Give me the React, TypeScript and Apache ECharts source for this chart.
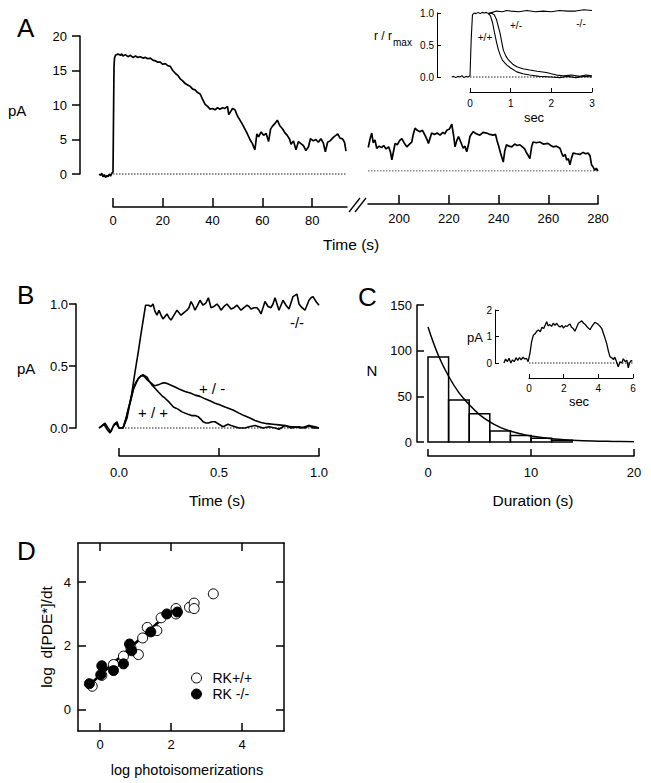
import React, { useEffect, useRef } from "react";
import * as echarts from "echarts";

const FONT = "'Liberation Sans', Arial, Helvetica, sans-serif";
const BLACK = "#000";

// ---------- Panel A : long recording (pA vs s) ----------
const traceA1: number[][] = [
  [-5.5, 0.0], [-5, -0.2], [-4.5, 0.1], [-4, -0.4], [-3.5, -0.1], [-3, -0.5], [-2.5, -0.2], [-2, -0.4],
  [-1.5, 0.0], [-1, -0.3], [-0.5, 0.1], [0, 0.3], [0.2, 8], [0.4, 15.5], [0.6, 16.8], [1, 17.2], [2, 17.4],
  [3, 17.2], [3.5, 17.4], [4, 17.1], [5, 17.3], [6, 17.0], [7, 17.2], [8, 16.9], [9, 17.1], [10, 16.9],
  [11, 17.0], [12, 16.8], [13, 16.9], [14, 16.7], [15, 16.8], [16, 16.5], [17, 16.4], [18, 16.2], [19, 16.2],
  [20, 15.9], [21, 16.0], [22, 15.7], [23, 15.6], [24, 15.0], [25, 14.6], [26, 14.3], [27, 13.8], [28, 13.5],
  [29, 13.1], [30, 12.9], [31, 12.7], [32, 12.3], [33, 12.2], [34, 11.8], [35, 11.6], [36, 10.8], [37, 10.1],
  [38, 9.8], [39, 9.4], [40, 9.5], [41, 9.3], [42, 9.6], [43, 9.4], [44, 9.6], [45, 9.5], [46, 9.8], [46.5, 8.6],
  [47, 8.9], [48, 9.5], [49, 9.3], [50, 8.4], [51, 7.8], [52, 7.2], [53, 6.5], [54, 5.8], [55, 5.0], [56, 4.4],
  [57, 3.5], [57.8, 5.8], [58.5, 5.4], [59.5, 6.1], [60.5, 5.6], [61.5, 5.9], [62.5, 4.7], [63.3, 6.5], [64, 6.9],
  [65, 7.3], [66, 7.8], [67, 7.0], [68, 6.6], [69, 6.0], [70, 5.6], [71, 5.0], [71.5, 4.3], [72.5, 4.8],
  [73.5, 3.5], [74.5, 4.7], [75.5, 4.4], [76.5, 4.1], [77.5, 3.4], [78.5, 3.9], [79.3, 5.1], [80.5, 4.8],
  [81.5, 5.0], [82.5, 4.6], [83.5, 5.1], [84.5, 4.5], [85.3, 3.2], [86.2, 4.6], [87.2, 4.8], [88.5, 5.3],
  [89.5, 5.6], [90.3, 5.8], [91.2, 5.2], [92.2, 5.1], [93, 4.6], [93.6, 3.3],
];
const traceA2: number[][] = [
  [187.6, 3.4], [188.3, 4.6], [189, 5.5], [189.6, 4.1], [190.3, 4.5], [191, 3.3], [192, 3.6], [193, 3.4],
  [193.8, 3.7], [194.8, 3.2], [195.8, 3.5], [196.5, 2.8], [197.1, 1.6], [197.8, 2.9], [198.4, 4.0], [199.3, 3.8],
  [200.2, 4.4], [201.1, 4.7], [202, 4.1], [203.1, 3.5], [204.2, 3.9], [205.1, 4.2], [205.7, 5.3], [206.4, 6.2],
  [207.3, 5.9], [208.4, 5.7], [209.4, 5.9], [210.4, 5.2], [211.2, 4.6], [211.8, 4.0], [212.5, 4.8], [213.1, 5.5],
  [214.2, 5.3], [215.3, 5.5], [216.5, 5.2], [217.6, 5.6], [218.4, 5.4], [219.2, 5.9], [220.3, 6.1], [221.2, 6.8],
  [221.9, 5.2], [222.5, 3.5], [223.2, 4.4], [223.9, 5.0], [224.8, 4.2], [225.8, 3.3], [226.5, 3.6], [227.2, 2.8],
  [227.9, 3.8], [228.5, 5.0], [229.2, 5.4], [229.8, 5.7], [231, 5.4], [232.5, 5.2], [233.8, 5.6], [235.2, 5.5],
  [236.5, 5.3], [237.8, 5.2], [238.8, 5.3], [239.4, 4.4], [239.9, 3.8], [240.8, 2.6], [241.9, 1.3], [242.5, 2.9],
  [243.2, 3.8], [244.2, 3.6], [245.3, 3.5], [246.5, 3.9], [247.5, 3.7], [248.6, 3.8], [249.6, 3.5], [250.5, 3.2],
  [251.3, 2.6], [252, 2.2], [252.6, 1.8], [253.3, 3.5], [253.9, 4.2], [255.2, 4.1], [256.6, 4.2], [258, 3.9],
  [259.9, 4.0], [261, 3.7], [262, 3.5], [263.3, 3.6], [264.7, 3.3], [265.4, 2.6], [266, 2.1], [266.8, 2.4],
  [267.4, 1.6], [268.1, 1.8], [268.7, 0.9], [269.3, 1.8], [270, 2.6], [271.3, 2.5], [272.7, 2.4], [274, 2.7],
  [275, 2.5], [276, 2.6], [276.8, 2.2], [277.4, 0.9], [278, 0.6], [278.7, 0.1], [279.3, 0.4], [280, 0.0],
];
const baseA1 = [[0, 0], [94, 0]];
const baseA2 = [[187.5, 0], [280, 0]];
const ticksA1 = [0, 20, 40, 60, 80];
const ticksA2 = [200, 220, 240, 260, 280];

// ---------- Inset A : normalised responses (r/rmax vs sec) ----------
const insetPre: number[][] = [
  [-0.45, 0], [-0.4, 0.01], [-0.35, -0.01], [-0.3, 0.01], [-0.25, 0], [-0.2, 0.02], [-0.15, -0.01],
  [-0.1, 0.01], [-0.05, 0], [0, 0.02], [0.03, 0.6], [0.06, 0.97], [0.1, 1.0], [0.15, 0.99], [0.2, 1.01],
  [0.25, 0.99], [0.3, 1.01], [0.35, 1.0], [0.4, 1.01], [0.45, 0.99],
];
const insetWT: number[][] = [
  [0.45, 0.99], [0.5, 0.96], [0.55, 0.86], [0.6, 0.7], [0.65, 0.55], [0.7, 0.42], [0.75, 0.33], [0.8, 0.26],
  [0.9, 0.19], [1.0, 0.14], [1.15, 0.08], [1.3, 0.05], [1.47, 0.03], [1.7, 0.01], [2.0, 0.0], [2.2, -0.01],
  [2.4, 0.01], [2.6, -0.01], [2.8, 0.01], [3.0, 0],
];
const insetHet: number[][] = [
  [0.45, 0.99], [0.5, 1.0], [0.55, 0.99], [0.6, 0.97], [0.65, 0.9], [0.7, 0.78], [0.74, 0.68], [0.78, 0.55],
  [0.82, 0.42], [0.88, 0.33], [0.94, 0.27], [1.05, 0.2], [1.15, 0.16], [1.3, 0.13], [1.47, 0.11], [1.65, 0.09],
  [1.88, 0.07], [2.0, 0.05], [2.13, 0.03], [2.3, 0.02], [2.5, 0.03], [2.7, 0.01], [2.85, 0.03], [3.0, 0.02],
];
const insetKO: number[][] = [
  [0.45, 0.99], [0.55, 1.01], [0.65, 1.03], [0.8, 1.02], [0.9, 1.04], [1.0, 1.03], [1.2, 1.02], [1.4, 1.04],
  [1.6, 1.02], [1.8, 1.03], [2.0, 1.02], [2.2, 1.04], [2.4, 1.03], [2.6, 1.03], [2.8, 1.05], [3.0, 1.04],
];
const baseInsetA = [[0, 0], [3, 0]];

// ---------- Panel B : single photon responses ----------
const bKO: number[][] = [
  [-0.1, 0], [-0.09, 0.01], [-0.075, 0.03], [-0.06, -0.01], [-0.045, -0.04], [-0.03, 0.01], [-0.015, 0.04],
  [0, 0.0], [0.02, 0.0], [0.04, 0.08], [0.063, 0.27], [0.08, 0.45], [0.097, 0.62], [0.11, 0.76], [0.12, 0.86],
  [0.133, 0.99], [0.147, 0.99], [0.16, 0.98], [0.17, 1.0], [0.18, 0.94], [0.19, 0.91], [0.2, 0.95], [0.21, 0.91],
  [0.22, 0.88], [0.23, 0.9], [0.24, 0.92], [0.25, 0.89], [0.26, 0.87], [0.275, 0.91], [0.29, 0.95], [0.3, 0.93],
  [0.31, 0.91], [0.325, 0.93], [0.34, 0.95], [0.35, 0.97], [0.36, 1.02], [0.37, 0.99], [0.38, 0.95], [0.39, 0.98],
  [0.405, 1.03], [0.42, 0.99], [0.435, 1.01], [0.447, 1.05], [0.46, 0.97], [0.475, 0.98], [0.49, 1.0], [0.5, 0.98],
  [0.51, 0.95], [0.525, 0.98], [0.54, 1.0], [0.55, 0.98], [0.56, 0.96], [0.575, 0.97], [0.59, 0.99], [0.6, 0.97],
  [0.61, 0.95], [0.625, 0.97], [0.64, 0.99], [0.65, 0.98], [0.66, 0.96], [0.675, 0.97], [0.69, 0.97], [0.7, 0.95],
  [0.71, 0.92], [0.72, 0.97], [0.73, 1.02], [0.745, 0.98], [0.76, 0.97], [0.77, 1.0], [0.78, 1.05], [0.79, 1.0],
  [0.8, 0.95], [0.81, 0.99], [0.82, 1.03], [0.835, 0.99], [0.85, 0.96], [0.86, 1.01], [0.87, 1.06], [0.88, 1.07],
  [0.89, 1.08], [0.9, 1.0], [0.915, 0.97], [0.93, 0.95], [0.94, 0.99], [0.95, 1.03], [0.96, 1.05], [0.97, 1.06],
  [0.985, 1.02], [1.0, 0.99],
];
const bWT: number[][] = [
  [-0.1, 0], [-0.085, 0.02], [-0.07, 0.04], [-0.055, 0.0], [-0.04, -0.03], [-0.025, 0.03], [-0.01, 0.05],
  [0, 0.0], [0.02, 0.0], [0.035, 0.08], [0.047, 0.16], [0.06, 0.24], [0.072, 0.32], [0.085, 0.37], [0.097, 0.40],
  [0.11, 0.42], [0.12, 0.43], [0.13, 0.42], [0.14, 0.41], [0.15, 0.38], [0.163, 0.35], [0.18, 0.32], [0.197, 0.29],
  [0.215, 0.26], [0.23, 0.24], [0.25, 0.21], [0.272, 0.17], [0.285, 0.16], [0.297, 0.15], [0.315, 0.13],
  [0.33, 0.12], [0.345, 0.11], [0.363, 0.10], [0.38, 0.10], [0.397, 0.09], [0.41, 0.07], [0.42, 0.05],
  [0.435, 0.04], [0.447, 0.04], [0.465, 0.05], [0.48, 0.05], [0.5, 0.03], [0.52, 0.01], [0.545, 0.03],
  [0.56, 0.02], [0.58, 0.01], [0.6, 0.0], [0.63, 0.0], [0.65, 0.01], [0.68, 0.02], [0.7, 0.01], [0.72, 0.0],
  [0.75, 0.01], [0.78, 0.0], [0.8, -0.01], [0.83, 0.02], [0.86, 0.0], [0.9, 0.01], [0.93, 0.0], [0.95, 0.02],
  [0.97, 0.0], [1.0, 0.0],
];
const bHet: number[][] = [
  [0.02, 0.0], [0.035, 0.07], [0.047, 0.15], [0.06, 0.23], [0.072, 0.31], [0.085, 0.36], [0.097, 0.40],
  [0.11, 0.42], [0.12, 0.42], [0.13, 0.41], [0.14, 0.39], [0.155, 0.37], [0.17, 0.35], [0.18, 0.34], [0.2, 0.35],
  [0.213, 0.36], [0.225, 0.365], [0.238, 0.36], [0.26, 0.345], [0.28, 0.33], [0.3, 0.315], [0.33, 0.295],
  [0.36, 0.28], [0.38, 0.265], [0.405, 0.255], [0.43, 0.235], [0.46, 0.215], [0.48, 0.2], [0.5, 0.19],
  [0.53, 0.17], [0.57, 0.145], [0.6, 0.12], [0.625, 0.1], [0.655, 0.08], [0.68, 0.06], [0.71, 0.045],
  [0.74, 0.035], [0.77, 0.03], [0.8, 0.025], [0.83, 0.02], [0.86, 0.01], [0.88, 0.01], [0.91, 0.0],
  [0.95, 0.02], [0.98, 0.01], [1.0, 0.0],
];
const baseB = [[0, 0], [1, 0]];

// ---------- Panel C : duration histogram ----------
const binStart = [0, 2, 4, 6, 8, 10, 12];
const binEnd = [2, 4, 6, 8, 10, 12, 14];
const binCount = [93, 46, 31, 12, 7, 4, 2];
const fitX = [0, 1, 2, 3, 4, 5, 6, 7, 8, 9, 10, 12, 14, 16, 18, 20];
const fitN = [126, 95, 72, 54, 41, 30, 22, 16, 12, 9, 6.5, 3.5, 2, 1, 0.6, 0.3];

// ---------- Inset C : single long event ----------
const traceInsetC: number[][] = [
  [-1.45, 0.0], [-1.35, 0.15], [-1.25, 0.05], [-1.15, 0.18], [-1.05, 0.0], [-0.95, 0.12], [-0.85, 0.05],
  [-0.75, 0.2], [-0.65, 0.1], [-0.55, 0.2], [-0.45, 0.12], [-0.35, 0.22], [-0.25, 0.15], [-0.15, 0.18],
  [-0.05, 0.05], [0.05, 0.35], [0.15, 0.8], [0.25, 1.05], [0.35, 1.1], [0.45, 1.2], [0.54, 1.25], [0.65, 1.18],
  [0.75, 1.35], [0.85, 1.3], [0.95, 1.45], [1.02, 1.56], [1.1, 1.4], [1.2, 1.45], [1.3, 1.38], [1.4, 1.5],
  [1.5, 1.42], [1.6, 1.5], [1.7, 1.4], [1.8, 1.36], [1.9, 1.42], [1.98, 1.32], [2.1, 1.4], [2.2, 1.38],
  [2.3, 1.45], [2.37, 1.47], [2.45, 1.35], [2.55, 1.3], [2.65, 1.2], [2.75, 1.35], [2.85, 1.5], [2.95, 1.55],
  [3.04, 1.59], [3.15, 1.5], [3.25, 1.45], [3.33, 1.38], [3.42, 1.32], [3.52, 1.26], [3.6, 1.35], [3.7, 1.45],
  [3.8, 1.53], [3.9, 1.5], [4.0, 1.45], [4.1, 1.38], [4.2, 1.3], [4.29, 1.12], [4.38, 0.95], [4.48, 0.74],
  [4.58, 0.45], [4.67, 0.24], [4.77, 0.2], [4.87, 0.13], [4.95, 0.22], [5.05, 0.05], [5.15, -0.14], [5.25, 0.05],
  [5.35, 0.0], [5.44, 0.16], [5.55, 0.05], [5.65, 0.1], [5.73, -0.18], [5.8, 0.0], [5.9, 0.1], [5.96, 0.06],
];
const baseInsetC = [[0, 0], [6, 0]];

// ---------- Panel D : log rate vs log photoisomerizations ----------
const dOpen: number[][] = [
  [-0.22, 0.74], [0.05, 1.08], [0.38, 1.42], [0.66, 1.68], [0.87, 1.94], [1.08, 1.73], [1.2, 2.25],
  [1.33, 2.58], [1.6, 2.48], [1.72, 2.88], [2.14, 3.17], [2.14, 3.0], [2.52, 3.21], [2.65, 3.34], [2.65, 3.17],
  [3.19, 3.63],
];
const dFilled: number[][] = [
  [-0.3, 0.82], [0.02, 1.1], [0.05, 1.38], [0.38, 1.23], [0.66, 1.44], [0.83, 2.06], [0.89, 1.85],
  [1.43, 2.44], [1.88, 3.0], [2.18, 3.06],
];
const dFit = [[-0.3, 0.78], [1.75, 2.85]];
const ticksD = [0, 2, 4];

function valueAxis(extra: any): any {
  const base: any = {
    type: "value",
    splitLine: { show: false },
    axisLine: { show: true, onZero: false, lineStyle: { color: BLACK, width: 1.5 } },
    axisTick: { show: true, length: 8, lineStyle: { color: BLACK, width: 1.5 } },
    axisLabel: { color: BLACK, fontFamily: FONT, fontSize: 13 },
  };
  const out: any = { ...base, ...extra };
  out.axisLine = { ...base.axisLine, ...(extra.axisLine || {}) };
  out.axisLine.lineStyle = { ...base.axisLine.lineStyle, ...((extra.axisLine || {}).lineStyle || {}) };
  out.axisTick = { ...base.axisTick, ...(extra.axisTick || {}) };
  out.axisTick.lineStyle = { ...base.axisTick.lineStyle, ...((extra.axisTick || {}).lineStyle || {}) };
  out.axisLabel = { ...base.axisLabel, ...(extra.axisLabel || {}) };
  return out;
}

function hiddenAxis(gridIndex: number, min: number, max: number): any {
  return { type: "value", gridIndex, min, max, show: false, splitLine: { show: false } };
}

function lineSeries(name: string, data: number[][], xi: number, yi: number, width: number, extra: any = {}): any {
  return {
    type: "line",
    name,
    xAxisIndex: xi,
    yAxisIndex: yi,
    data,
    showSymbol: false,
    symbol: "none",
    silent: true,
    lineStyle: { color: BLACK, width },
    ...extra,
  };
}

function dotted(data: number[][], xi: number, yi: number): any {
  return lineSeries("baseline", data, xi, yi, 1, { lineStyle: { color: BLACK, width: 0.9, type: [1.5, 1.5] } });
}

function txt(text: string, x: number, y: number, size: number, align = "left", extra: any = {}): any {
  return {
    type: "text",
    x,
    y,
    silent: true,
    ...extra,
    style: {
      text,
      fill: BLACK,
      fontFamily: FONT,
      fontSize: size,
      align,
      verticalAlign: "middle",
      textAlign: align,
      textVerticalAlign: "middle",
    },
  };
}

const fix1 = (v: number) => v.toFixed(1);

function buildOption(): any {
  // data grids hold the traces (hidden axes, a little wider than the drawn axes);
  // axis grids hold the visible axes with exactly the same scale.
  const grid = [
    { left: 98.07, top: 36, width: 248.93, height: 144.9 }, // 0 A1 data  x -6..94, y -1..20
    { left: 113, top: 36, width: 234, height: 138 }, // 1 A1 axes  x 0..94, y 0..20
    { left: 368, top: 33, width: 230, height: 138 }, // 2 A2
    { left: 449.67, top: 6.6, width: 142.33, height: 76.8 }, // 3 inset A data x -0.5..3, y -0.1..1.1
    { left: 470, top: 13, width: 122, height: 64 }, // 4 inset A axes
    { left: 95, top: 285.4, width: 224, height: 155 }, // 5 B data x -0.12..1, y -0.1..1.15
    { left: 119, top: 304, width: 200, height: 124 }, // 6 B axes
    { left: 428, top: 305, width: 206, height: 137 }, // 7 C
    { left: 501.27, top: 310, width: 131.73, height: 60.95 }, // 8 inset C data x -1.6..6, y -0.3..2
    { left: 529, top: 310, width: 104, height: 53 }, // 9 inset C axes
    { left: 78, top: 543, width: 206, height: 188 }, // 10 D
  ];

  const insetTick = { inside: true, length: 4, lineStyle: { width: 1 } };
  const insetLine = { lineStyle: { width: 1 } };

  const xAxis = [
    hiddenAxis(0, -6, 94),
    valueAxis({
      gridIndex: 1, min: 0, max: 94, offset: 33, position: "bottom",
      axisTick: { inside: true, length: 9, customValues: ticksA1 },
      axisLabel: { customValues: ticksA1, margin: 7 },
    }),
    valueAxis({
      gridIndex: 2, min: 187.5, max: 280, offset: 33, position: "bottom",
      axisTick: { inside: true, length: 9, customValues: ticksA2 },
      axisLabel: { customValues: ticksA2, margin: 8 },
    }),
    hiddenAxis(3, -0.5, 3),
    valueAxis({
      gridIndex: 4, min: 0, max: 3, interval: 1, offset: 15, position: "bottom",
      axisLine: insetLine, axisTick: insetTick, axisLabel: { fontSize: 10, margin: 6 },
    }),
    hiddenAxis(5, -0.12, 1),
    valueAxis({
      gridIndex: 6, min: 0, max: 1, interval: 0.5, offset: 28, position: "bottom",
      axisTick: { inside: true, length: 8 }, axisLabel: { formatter: fix1, margin: 10 },
    }),
    valueAxis({
      gridIndex: 7, min: 0, max: 20, interval: 10, offset: 14, position: "bottom",
      axisTick: { inside: true, length: 7 }, axisLabel: { margin: 10 },
    }),
    hiddenAxis(8, -1.6, 6),
    valueAxis({
      gridIndex: 9, min: 0, max: 6, interval: 2, offset: 15, position: "bottom",
      axisLine: insetLine, axisTick: insetTick, axisLabel: { fontSize: 10, margin: 5 },
    }),
    valueAxis({
      gridIndex: 10, min: -0.62, max: 5.18, position: "bottom",
      axisTick: { inside: true, length: 8, customValues: ticksD },
      axisLabel: { customValues: ticksD, margin: 7 },
    }),
    valueAxis({
      gridIndex: 10, min: -0.62, max: 5.18, position: "top",
      axisTick: { inside: true, length: 8, customValues: ticksD },
      axisLabel: { show: false },
    }),
  ];

  const yAxis = [
    hiddenAxis(0, -1, 20),
    valueAxis({
      gridIndex: 1, min: 0, max: 20, interval: 5, offset: 33, position: "left",
      axisTick: { length: 8 }, axisLabel: { margin: 13 },
    }),
    hiddenAxis(2, 0, 20),
    hiddenAxis(3, -0.1, 1.1),
    valueAxis({
      gridIndex: 4, min: 0, max: 1, interval: 0.5, offset: 33, position: "left",
      axisLine: insetLine, axisTick: insetTick, axisLabel: { fontSize: 10, margin: 3, formatter: fix1 },
    }),
    hiddenAxis(5, -0.1, 1.15),
    valueAxis({
      gridIndex: 6, min: 0, max: 1, interval: 0.5, offset: 43, position: "left",
      axisTick: { length: 7 }, axisLabel: { margin: 8, formatter: fix1 },
    }),
    valueAxis({
      gridIndex: 7, min: 0, max: 150, interval: 50, offset: 11, position: "left",
      axisTick: { inside: true, length: 7 }, axisLabel: { margin: 5 },
    }),
    hiddenAxis(8, -0.3, 2),
    valueAxis({
      gridIndex: 9, min: 0, max: 2, interval: 1, offset: 34, position: "left",
      axisLine: insetLine, axisTick: insetTick, axisLabel: { fontSize: 10, margin: 3 },
    }),
    valueAxis({
      gridIndex: 10, min: -0.66, max: 5.22, position: "left",
      axisTick: { inside: true, length: 8, customValues: ticksD },
      axisLabel: { customValues: ticksD, margin: 7 },
    }),
    valueAxis({
      gridIndex: 10, min: -0.66, max: 5.22, position: "right",
      axisTick: { inside: true, length: 8, customValues: ticksD },
      axisLabel: { show: false },
    }),
  ];

  const histData = binStart.map((s, i) => [s, binEnd[i], binCount[i]]);
  const fitData = fitX.map((x, i) => [x, fitN[i]]);

  const series: any[] = [
    dotted(baseA1, 0, 0),
    lineSeries("A trace 0-94 s", traceA1, 0, 0, 1.7),
    dotted(baseA2, 2, 2),
    lineSeries("A trace 188-280 s", traceA2, 2, 2, 1.7),
    dotted(baseInsetA, 3, 3),
    lineSeries("inset pre", insetPre, 3, 3, 1.1),
    lineSeries("+/+", insetWT, 3, 3, 1.1),
    lineSeries("+/-", insetHet, 3, 3, 1.1),
    lineSeries("-/-", insetKO, 3, 3, 1.1),
    dotted(baseB, 5, 5),
    lineSeries("B -/-", bKO, 5, 5, 1.6),
    lineSeries("B +/+", bWT, 5, 5, 1.6),
    lineSeries("B +/-", bHet, 5, 5, 1.6),
    {
      type: "custom",
      name: "histogram",
      xAxisIndex: 7,
      yAxisIndex: 7,
      data: histData,
      encode: { x: [0, 1], y: 2 },
      silent: true,
      renderItem: (_params: any, api: any) => {
        const p0 = api.coord([api.value(0), api.value(2)]);
        const p1 = api.coord([api.value(1), 0]);
        return {
          type: "rect",
          shape: { x: p0[0], y: p0[1], width: p1[0] - p0[0], height: p1[1] - p0[1] },
          style: { fill: "rgba(255,255,255,0)", stroke: BLACK, lineWidth: 1.5 },
        };
      },
    },
    lineSeries("fit", fitData, 7, 7, 1.5, { smooth: 0.4 }),
    dotted(baseInsetC, 8, 8),
    lineSeries("inset C", traceInsetC, 8, 8, 1.3),
    lineSeries("D fit", dFit, 10, 10, 2.6),
    {
      type: "scatter",
      name: "RK+/+",
      xAxisIndex: 10,
      yAxisIndex: 10,
      data: dOpen,
      symbol: "circle",
      symbolSize: 10,
      itemStyle: { color: "#fff", borderColor: BLACK, borderWidth: 1, opacity: 1 },
      z: 3,
    },
    {
      type: "scatter",
      name: "RK -/-",
      xAxisIndex: 10,
      yAxisIndex: 10,
      data: dFilled,
      symbol: "circle",
      symbolSize: 10,
      itemStyle: { color: BLACK, borderColor: BLACK, borderWidth: 1, opacity: 1 },
      z: 4,
    },
  ];

  const graphic: any[] = [
    // panel letters
    txt("A", 17, 28, 26),
    txt("B", 17, 295, 26),
    txt("C", 358, 297, 26),
    txt("D", 17, 551, 26),
    // panel A titles
    txt("pA", 8, 110, 15),
    txt("Time (s)", 323, 244, 15.5),
    // axis break marks
    { type: "line", shape: { x1: 349, y1: 212, x2: 360, y2: 198 }, style: { stroke: BLACK, lineWidth: 1.3 } },
    { type: "line", shape: { x1: 355, y1: 212, x2: 366, y2: 198 }, style: { stroke: BLACK, lineWidth: 1.3 } },
    // inset A
    txt("r / r", 374, 36, 12),
    txt("max", 393, 42, 10),
    txt("sec", 534, 117, 13, "center"),
    txt("+/+", 485, 37, 10, "center"),
    txt("+/-", 516, 25, 10, "center"),
    txt("-/-", 581, 23, 10, "center"),
    // panel B
    txt("pA", 17, 368, 15),
    txt("Time (s)", 217, 500, 15.5, "center"),
    txt("-/-", 297, 322, 15, "center"),
    txt("+ / -", 212, 388, 15, "center"),
    txt("+ / +", 153, 412, 15, "center"),
    // panel C
    txt("N", 372, 370, 15, "center"),
    txt("Duration (s)", 533, 500, 15.5, "center"),
    txt("pA", 475, 337, 13, "center"),
    txt("sec", 579, 401, 13, "center"),
    // panel D
    txt("log photoisomerizations", 187, 770, 14.5, "center"),
    txt("log  d[PDE*]/dt", 46, 637, 15.5, "center", { rotation: Math.PI / 2 }),
  ];

  return {
    animation: false,
    backgroundColor: "#fff",
    textStyle: { fontFamily: FONT, color: BLACK },
    grid,
    xAxis,
    yAxis,
    series,
    graphic,
    legend: {
      data: ["RK+/+", "RK -/-"],
      orient: "vertical",
      left: 186,
      top: 666,
      itemWidth: 22,
      itemHeight: 10,
      itemGap: 2,
      selectedMode: false,
      itemStyle: { borderWidth: 1 },
      textStyle: { fontSize: 14, color: BLACK, fontFamily: FONT },
    },
  };
}

export default function App() {
  const ref = useRef<HTMLDivElement>(null);
  useEffect(() => {
    if (!ref.current) return;
    const chart = echarts.init(ref.current, null, { renderer: "svg" });
    chart.setOption(buildOption());
    return () => chart.dispose();
  }, []);
  return (
    <div
      ref={ref}
      style={{ position: "fixed", left: 0, top: 0, width: 651, height: 783, background: "#fff" }}
    />
  );
}
